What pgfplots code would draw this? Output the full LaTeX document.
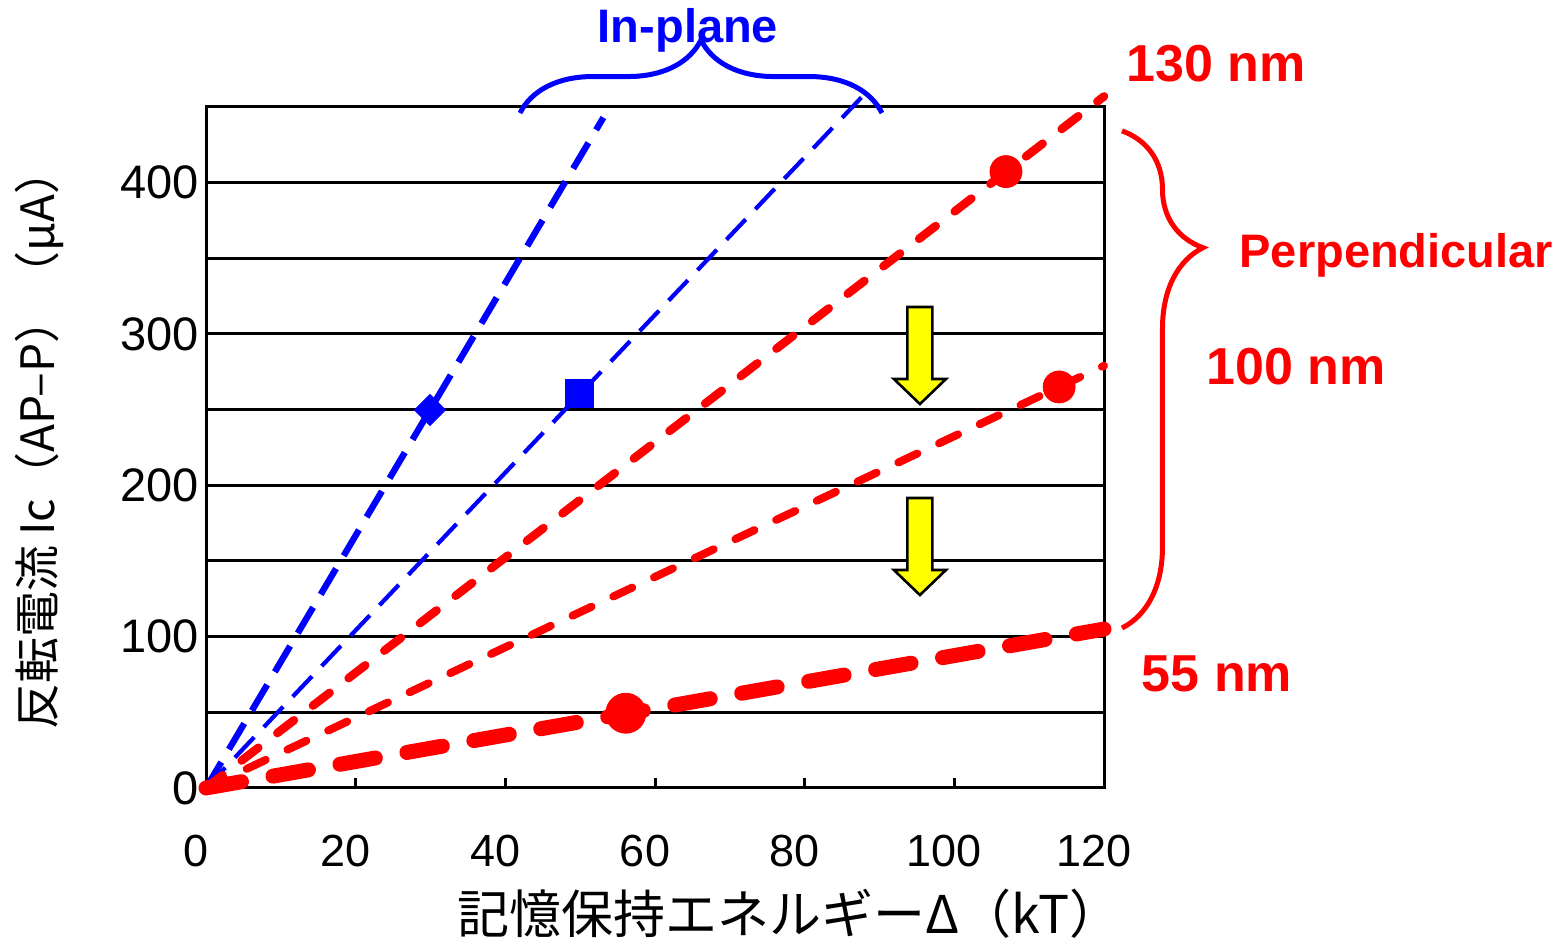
\documentclass[border=0pt]{standalone}
\usepackage{pgfplots}
\pgfplotsset{compat=1.18}
\usepackage{fontspec}
\setmainfont{Liberation Sans}
\newfontfamily\jp{Noto Sans CJK JP}
\usetikzlibrary{decorations.pathreplacing}
\definecolor{pblue}{RGB}{0,0,255}
\definecolor{pred}{RGB}{255,0,0}
\definecolor{pyellow}{RGB}{255,255,0}
\begin{document}
\begin{tikzpicture}
\begin{axis}[
  scale only axis, width=449pt, height=340.5pt,
  xmin=0, xmax=120, ymin=0, ymax=450,
  xtick={0,20,...,120}, ytick={0,100,...,400}, minor ytick={50,150,250,350},
  ymajorgrids, yminorgrids,
  major grid style={black, line width=1.5pt},
  minor grid style={black, line width=1.5pt},
  axis line style={black, line width=1.5pt},
  every tick/.style={black, line width=1.5pt},
  tick align=inside, xtick pos=bottom, ytick pos=left,
  major tick length=5pt, minor tick length=5pt,
  /pgf/number format/assume math mode=true,
  tick label style={font=\fontsize{22.5}{26}\selectfont},
  yticklabel style={font=\fontsize{23.5}{27}\selectfont},
  xticklabel style={yshift=-20pt, xshift=-5pt},
  clip=false,
]
% in-plane lines
\addplot[pblue, line width=3.2pt, dash pattern=on 15pt off 7.5pt] coordinates {(0,0) (53.1,443)};
\addplot[pblue, line width=2.1pt, dash pattern=on 14pt off 7pt] coordinates {(0,0) (87.6,456.4)};
% perpendicular lines
\addplot[pred, line width=4.25pt, line cap=round, dash pattern=on 10.5pt off 12pt] coordinates {(0,0) (120,457)};
\addplot[pred, line width=4pt, line cap=round, dash pattern=on 10.5pt off 12pt] coordinates {(0,0) (120,279)};
\addplot[pred, line width=7.5pt, line cap=round, dash pattern=on 18pt off 16pt] coordinates {(0,0) (120,105)};
% markers
\addplot[only marks, mark=square*, mark size=5.5pt, mark options={rotate=45, draw=pblue, fill=pblue}] coordinates {(29.93,249.8)};
\addplot[only marks, mark=square*, mark size=7pt, mark options={draw=pblue, fill=pblue}] coordinates {(49.84,260.6)};
\addplot[only marks, mark=*, mark size=8pt, mark options={draw=pred, fill=pred}] coordinates {(106.9,407.3) (114.0,265.0)};
\addplot[only marks, mark=*, mark size=10pt, mark options={draw=pred, fill=pred}] coordinates {(56.1,49.4)};
% braces
\draw[pblue, line width=2.5pt, decorate, decoration={brace, amplitude=36.5pt}] (axis cs:41.96,446) -- (axis cs:90.33,446);
\draw[pred, line width=2.5pt, decorate, decoration={brace, amplitude=40.5pt, aspect=0.235}] (axis cs:122.4,434.2) -- (axis cs:122.4,105.7);
% annotations
\node[pblue, font=\bfseries\fontsize{23.5}{28}\selectfont, anchor=base] at (rel axis cs:0.5367,1.094) {In-plane};
\node[pred, font=\bfseries\fontsize{26}{30}\selectfont, anchor=base] at (rel axis cs:1.1247,1.0367) {130 nm};
\node[pred, font=\bfseries\fontsize{23.5}{28}\selectfont, anchor=base] at (rel axis cs:1.3255,0.7636) {Perpendicular};
\node[pred, font=\bfseries\fontsize{26}{30}\selectfont, anchor=base] at (rel axis cs:1.2138,0.5918) {100 nm};
\node[pred, font=\bfseries\fontsize{26}{30}\selectfont, anchor=base] at (rel axis cs:1.1258,0.1424) {55 nm};
% axis labels
\node[rotate=90, font=\jp\fontsize{23}{27}\selectfont] at (rel axis cs:-0.1860,0.512) {反転電流 Ic（AP–P）（μA）};
\node[font=\jp\fontsize{26}{30}\selectfont] at (rel axis cs:0.6500,-0.185) {記憶保持エネルギーΔ（kT）};
% arrow anchors
\coordinate (ar1) at (axis cs:95.4,317.8);
\coordinate (ar2) at (axis cs:95.4,191.6);
% bounding box
\path (rel axis cs:-0.2294,-0.2247) rectangle (rel axis cs:1.5100,1.1571);
\end{axis}
\foreach \c in {ar1,ar2}{
  \draw[black, fill=pyellow, line width=1.3pt, shift={(\c)}] (-6.25pt,0pt) -- (6.25pt,0pt) -- (6.25pt,-36pt) -- (13pt,-36pt) -- (0pt,-48.5pt) -- (-13pt,-36pt) -- (-6.25pt,-36pt) -- cycle;
}
\end{tikzpicture}
\end{document}
